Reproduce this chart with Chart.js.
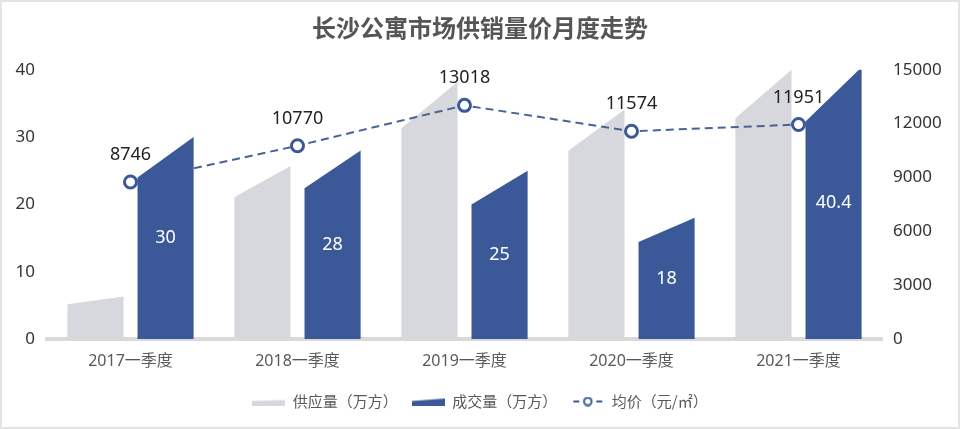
<!DOCTYPE html>
<html>
<head>
<meta charset="utf-8">
<script src="https://cdn.jsdelivr.net/npm/chart.js@4"></script>
<style>
  html, body { margin: 0; padding: 0; background: #fff; }
  #wrap { position: relative; width: 960px; height: 429px; }
  #frame { position: absolute; left: 0; top: 0; right: 0; bottom: 0; border: 2px solid #e4e4e4; pointer-events: none; }
</style>
</head>
<body>
<div id="wrap">
  <canvas id="chart" width="960" height="429"></canvas>
  <div id="frame"></div>
</div>
<script>
// data
const quarters = ['2017一季度', '2018一季度', '2019一季度', '2020一季度', '2021一季度'];
const supply = [6.3, 25.7, 38.2, 34.1, 40];      // 供应量（万方）
const deals = [30, 28, 25, 18, 40.4];             // 成交量（万方）
const price = [8746, 10770, 13018, 11574, 11951]; // 均价（元/㎡）
const leftMax = 40, leftStep = 10;
const rightMax = 15000, rightStep = 3000;

const GRAY = '#d6d8de';
const BLUE = '#3b5998';
const LINE = '#4a6296';

Chart.defaults.font.family = '"Noto Sans", "Noto Sans CJK SC", sans-serif';

// legend icons
function icon(w, h, draw) {
  const c = document.createElement('canvas');
  c.width = w; c.height = h;
  draw(c.getContext('2d'));
  return c;
}
const icons = [
  icon(33, 8, g => { g.fillStyle = GRAY; g.beginPath(); g.moveTo(0, 8); g.lineTo(0, 3.5); g.lineTo(33, 2.5); g.lineTo(33, 8); g.fill(); }),
  icon(33, 8, g => { g.fillStyle = BLUE; g.beginPath(); g.moveTo(0, 8); g.lineTo(0, 3.5); g.lineTo(33, 1); g.lineTo(33, 8); g.fill(); }),
  icon(33, 10, g => {
    g.strokeStyle = BLUE; g.lineWidth = 2;
    g.beginPath(); g.moveTo(2, 5); g.lineTo(8, 5); g.moveTo(25, 5); g.lineTo(31, 5); g.stroke();
    g.fillStyle = '#fff'; g.beginPath(); g.arc(16.5, 5, 3.8, 0, Math.PI * 2); g.fill(); g.stroke();
  })
];

// bars with a sloped top: left edge is a fraction of the right edge height
function drawSlanted(chart, idx) {
  const ds = chart.data.datasets[idx];
  const meta = chart.getDatasetMeta(idx);
  const ctx = chart.ctx, a = chart.chartArea;
  ctx.save();
  ctx.beginPath(); ctx.rect(a.left, a.top, a.right - a.left, a.bottom - a.top); ctx.clip();
  ctx.fillStyle = ds.backgroundColor;
  meta.data.forEach(el => {
    const { x, y, base, width } = el.getProps(['x', 'y', 'base', 'width'], true);
    const l = x - width / 2, r = x + width / 2;
    const yl = base - (base - y) * ds.slant;
    ctx.beginPath();
    ctx.moveTo(l, base); ctx.lineTo(l, yl); ctx.lineTo(r, y); ctx.lineTo(r, base);
    ctx.closePath(); ctx.fill();
  });
  ctx.restore();
}

const slantBars = {
  id: 'slantBars',
  beforeDatasetDraw(chart, args) {
    if (chart.data.datasets[args.index].type === 'bar') return false;
  },
  // gray under the line, blue over it
  beforeDatasetsDraw(chart) {
    drawSlanted(chart, 0);
  },
  afterDatasetsDraw(chart) {
    drawSlanted(chart, 1);
    const ctx = chart.ctx;
    ctx.save();
    ctx.textAlign = 'center';
    ctx.textBaseline = 'middle';
    ctx.font = '18px "Noto Sans", sans-serif';
    // 成交量 labels inside the blue bars
    const bm = chart.getDatasetMeta(1);
    ctx.fillStyle = '#ffffff';
    bm.data.forEach((el, i) => {
      ctx.fillText(deals[i], el.x, (el.y + el.base) / 2);
    });
    // 均价 labels above the points
    const lm = chart.getDatasetMeta(2);
    ctx.fillStyle = '#222222';
    lm.data.forEach((pt, i) => {
      ctx.fillText(price[i], pt.x, pt.y - 27);
    });
    ctx.restore();
  }
};

new Chart(document.getElementById('chart'), {
  data: {
    labels: quarters,
    datasets: [{
      type: 'bar',
      label: '供应量（万方）',
      data: supply,
      backgroundColor: GRAY,
      slant: 0.82,
      yAxisID: 'y',
      categoryPercentage: 0.84,
      barPercentage: 0.8
    }, {
      type: 'bar',
      label: '成交量（万方）',
      data: deals,
      backgroundColor: BLUE,
      slant: 0.8,
      yAxisID: 'y',
      categoryPercentage: 0.84,
      barPercentage: 0.8
    }, {
      type: 'line',
      label: '均价（元/㎡）',
      data: price,
      yAxisID: 'y1',
      borderColor: LINE,
      borderWidth: 2,
      borderDash: [8, 5],
      pointRadius: 6,
      pointBorderWidth: 3,
      pointBackgroundColor: '#ffffff',
      pointBorderColor: BLUE,
      tension: 0
    }]
  },
  options: {
    responsive: false,
    animation: false,
    layout: { padding: { left: 0, right: 0, top: 0, bottom: 10 } },
    scales: {
      x: {
        z: 1,
        grid: { display: false, drawTicks: false },
        border: { display: true, color: '#d9d9d9', width: 4 },
        ticks: { color: '#595959', font: { size: 16 }, padding: 13 },
        afterFit: s => { s.height = 41; }
      },
      y: {
        position: 'left',
        min: 0, max: leftMax,
        grid: { display: false, drawTicks: false },
        border: { display: false },
        ticks: { stepSize: leftStep, color: '#333333', font: { size: 17 }, padding: 12 },
        afterFit: s => { s.width = 47; }
      },
      y1: {
        position: 'right',
        min: 0, max: rightMax,
        grid: { display: false, drawTicks: false },
        border: { display: false },
        ticks: { stepSize: rightStep, color: '#333333', font: { size: 17 }, padding: 11, callback: v => String(v) },
        afterFit: s => { s.width = 78; }
      }
    },
    plugins: {
      title: {
        display: true,
        text: '长沙公寓市场供销量价月度走势',
        color: '#555555',
        font: { size: 24, weight: 'bold', family: '"Noto Sans CJK SC", sans-serif' },
        padding: { top: 13, bottom: 28 }
      },
      legend: {
        position: 'bottom',
        labels: {
          color: '#595959',
          font: { size: 15, family: '"Noto Sans CJK SC", sans-serif' },
          usePointStyle: true,
          pointStyleWidth: 33,
          padding: 14,
          sort: (a, b) => a.datasetIndex - b.datasetIndex,
          generateLabels(chart) {
            const items = Chart.defaults.plugins.legend.labels.generateLabels(chart);
            items.forEach(it => { it.pointStyle = icons[it.datasetIndex]; });
            return items;
          }
        }
      },
      tooltip: { enabled: false }
    }
  },
  plugins: [slantBars]
});
</script>
</body>
</html>
